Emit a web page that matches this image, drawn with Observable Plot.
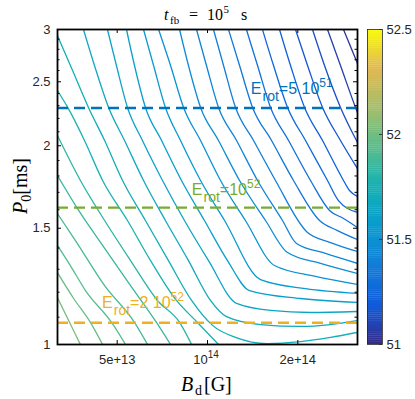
<!DOCTYPE html>
<html><head><meta charset="utf-8">
<script src="https://cdn.jsdelivr.net/npm/d3@7"></script>
<script src="https://cdn.jsdelivr.net/npm/@observablehq/plot@0.6"></script>
<style>
html,body{margin:0;padding:0;background:#fff;}
#wrap{position:relative;width:415px;height:399px;overflow:hidden;}
#wrap svg{position:absolute;left:0;top:0;}
</style></head><body><div id="wrap"></div>
<script>
// ---------- data (B in units of 1e13 G, P in ms) ----------
const xTickValues = [5e13, 1e14, 2e14];
const yTickValues = [1, 1.5, 2, 2.5, 3];
const yTickLabels = ["1", "1.5", "2", "2.5", "3"];
const yMinorTicks = [1.1,1.2,1.3,1.4,1.6,1.7,1.8,1.9,2.1,2.2,2.3,2.4,2.6,2.7,2.8,2.9];
const cbTickValues = [51, 51.5, 52, 52.5];
const cbTickLabels = ["51", "51.5", "52", "52.5"];
const parulaColors = ["#352a87","#0f5cdd","#127dd8","#079ccf","#15b1b4","#59bd8c","#a5be6b","#e1b952","#f9fb0e"];

const cT16 = [[28.4,3.0],[31.62,2.665]];
const cT15 = [[25.12,3.0],[27.75,2.646],[31.14,2.286],[31.62,2.245]];
const cT14 = [[22.39,3.0],[24.55,2.646],[27.75,2.286],[31.62,2.023]];
const cT13 = [[19.65,3.0],[21.55,2.646],[24.18,2.286],[27.75,2.037],[31.62,1.847]];
const cT12 = [[17.38,3.0],[18.91,2.646],[21.06,2.286],[24.18,2.037],[28.40,1.772],[29.74,1.711],[31.62,1.676]];
const cT11 = [[15.25,3.0],[16.60,2.646],[18.48,2.286],[21.22,2.037],[25.12,1.772],[27.33,1.652],[31.62,1.585]];
const cT10 = [[13.48,3.0],[14.68,2.646],[16.22,2.286],[18.63,2.037],[22.05,1.772],[25.51,1.596],[28.40,1.552],[31.62,1.504]];
const cT9  = [[11.75,3.0],[12.79,2.646],[14.13,2.286],[16.35,2.037],[19.35,1.772],[23.63,1.541],[27.12,1.488],[31.62,1.442]];
const cT8  = [[10.47,3.0],[11.31,2.646],[12.40,2.286],[14.24,2.037],[16.85,1.772],[21.55,1.478],[25.70,1.427],[31.62,1.383]];
const cT7  = [[9.19,3.0],[9.92,2.646],[10.88,2.286],[12.50,2.037],[14.68,1.772],[17.78,1.541],[19.80,1.422],[24.74,1.374],[31.62,1.327]];
const cT6  = [[8.07,3.0],[8.64,2.646],[9.48,2.286],[10.88,2.037],[12.79,1.772],[15.61,1.541],[18.48,1.378],[23.81,1.327],[31.62,1.281]];
const cT5  = [[6.87,3.0],[7.53,2.646],[8.32,2.286],[9.48,2.037],[11.05,1.772],[13.38,1.541],[16.72,1.317],[22.91,1.268],[31.62,1.233]];
const cT4  = [[6.12,3.0],[6.61,2.646],[7.24,2.286],[8.13,2.037],[9.48,1.772],[11.40,1.541],[15.02,1.254],[21.22,1.215],[31.62,1.195]];
const cT3  = [[5.37,3.0],[5.71,2.646],[6.21,2.286],[7.03,2.037],[8.19,1.772],[9.77,1.541],[11.66,1.340],[13.80,1.207],[20.42,1.174],[31.62,1.158]];
const cT2  = [[4.64,3.0],[4.97,2.646],[5.41,2.286],[6.07,2.037],[7.08,1.772],[8.38,1.541],[10.08,1.340],[12.50,1.154],[16.22,1.126],[22.05,1.118],[31.62,1.122]];
const cT1  = [[3.86,3.0],[4.20,2.646],[4.68,2.286],[5.29,2.037],[6.12,1.772],[7.24,1.541],[8.64,1.340],[10.23,1.166],[11.57,1.102],[15.02,1.072],[20.42,1.065],[25.70,1.072],[31.62,1.087]];
const cG8  = [[3.16,2.938],[3.55,2.600],[4.01,2.286],[4.54,2.037],[5.21,1.772],[6.21,1.541],[7.41,1.340],[8.85,1.166],[10.39,1.069],[12.40,1.025],[15.85,1.003],[20.42,1.010],[25.70,1.025],[31.62,1.043]];
const cG7  = [[3.16,2.425],[3.42,2.286],[3.89,2.037],[4.47,1.772],[5.41,1.541],[6.46,1.340],[7.88,1.166],[9.26,1.080],[10.88,1.0]];
const cG6  = [[3.16,2.073],[3.77,1.772],[4.54,1.541],[5.54,1.340],[6.81,1.166],[8.07,1.080],[8.85,1.0]];
const cG5  = [[3.16,1.803],[3.72,1.596],[4.47,1.413],[5.54,1.228],[6.76,1.080],[7.53,1.0]];
const cG4  = [[3.16,1.579],[3.63,1.437],[4.54,1.228],[5.71,1.080],[6.31,1.0]];
const cG3  = [[3.16,1.413],[3.49,1.317],[3.92,1.207],[4.79,1.080],[5.33,1.0]];
const cG2  = [[3.16,1.285],[3.58,1.174],[4.07,1.080],[4.47,1.0]];
const cG1  = [[3.16,1.178],[3.47,1.080],[3.77,1.0]];

const contourPaths  = [cT16,cT15,cT14,cT13,cT12,cT11,cT10,cT9,cT8,cT7,cT6,cT5,cT4,cT3,cT2,cT1,cG8,cG7,cG6,cG5,cG4,cG3,cG2,cG1];
const contourLevels = [51.04,51.08,51.13,51.17,51.21,51.25,51.30,51.34,51.38,51.42,51.47,51.51,51.55,51.59,51.64,51.68,51.72,51.76,51.81,51.85,51.89,51.93,51.98,52.02];

const erotP = [2.282, 1.612, 1.079];
const erotColors = ["#0072BD", "#77AC30", "#EDB120"];
const erotLabelB = [14.0e13, 8.9e13, 4.47e13];
const erotLabelP = [2.392, 1.682, 1.134];
const erotMant = ["=5 10", "=10", "=2 10"];
const erotExp = ["51", "52", "52"];

// ---------- build ----------
const rows = contourPaths.flatMap((pts, i) => pts.map(([b, p]) => ({B: b * 1e13, P: p, level: contourLevels[i], id: i})));
const parula = d3.piecewise(d3.interpolateRgb, parulaColors);
const colorOpt = {type: "linear", domain: [51, 52.5], interpolate: parula};
const SANS = "Liberation Sans, Arial, sans-serif";
const SERIF = "Liberation Serif, Times New Roman, serif";

const W = 415, H = 399, mT = 29, mB = 55, mL = 57, mR = 58;
const fw = W - mL - mR, fh = H - mT - mB;

const chart = Plot.plot({
  width: W, height: H, marginTop: mT, marginBottom: mB, marginLeft: mL, marginRight: mR,
  style: {fontFamily: SANS, fontSize: "13px", background: "white", color: "black"},
  x: {type: "log", domain: [10 ** 13.5, 10 ** 14.5], axis: null},
  y: {type: "log", domain: [1, 3], axis: null},
  color: colorOpt,
  marks: [
    Plot.line(rows, {x: "B", y: "P", z: "id", stroke: "level", strokeWidth: 1.3, curve: "monotone-x", clip: true}),
    Plot.ruleY([erotP[0]], {y: d => d, stroke: erotColors[0], strokeWidth: 2.4, strokeDasharray: "11,6"}),
    Plot.ruleY([erotP[1]], {y: d => d, stroke: erotColors[1], strokeWidth: 2.4, strokeDasharray: "11,6"}),
    Plot.ruleY([erotP[2]], {y: d => d, stroke: erotColors[2], strokeWidth: 2.4, strokeDasharray: "11,6"}),
    // ticks (inward)
    Plot.tickX(xTickValues, {x: d => d, insetTop: fh - 4, stroke: "black"}),
    Plot.tickX(xTickValues, {x: d => d, insetBottom: fh - 4, stroke: "black"}),
    Plot.tickY(yTickValues, {y: d => d, insetRight: fw - 4, stroke: "black"}),
    Plot.tickY(yTickValues, {y: d => d, insetLeft: fw - 4, stroke: "black"}),
    Plot.tickY(yMinorTicks, {y: d => d, insetRight: fw - 2.5, stroke: "black"}),
    Plot.tickY(yMinorTicks, {y: d => d, insetLeft: fw - 2.5, stroke: "black"}),
    Plot.frame({stroke: "black", strokeWidth: 1.8}),
    // tick labels
    Plot.text(yTickValues, {x: 10 ** 13.5, y: d => d, text: (d, i) => yTickLabels[i], textAnchor: "end", dx: -7, fontSize: 13, fill: "#262626"}),
    Plot.text([5e13, 2e14], {x: d => d, y: 1, text: d => d === 5e13 ? "5e+13" : "2e+14", dy: 15, fontSize: 13, fill: "#262626"})
  ]
});

const cbRows = d3.range(150).map(i => 51 + i * 0.01);
const cbar = Plot.plot({
  width: W, height: H, marginTop: mT, marginBottom: mB, marginLeft: 367, marginRight: 33,
  style: {fontFamily: SANS, fontSize: "13px", background: "transparent", color: "black"},
  x: {domain: [0, 1], axis: null},
  y: {domain: [51, 52.5], axis: null},
  color: colorOpt,
  marks: [
    Plot.rect(cbRows, {x1: 0, x2: 1, y1: d => d, y2: d => Math.min(52.5, d + 0.0115), fill: d => d + 0.005}),
    Plot.tickY(cbTickValues, {y: d => d, insetLeft: 12, stroke: "#262626", strokeWidth: 0.8}),
    Plot.frame({stroke: "#262626", strokeWidth: 0.8}),
    Plot.text(cbTickValues, {x: 1, y: d => d, text: (d, i) => cbTickLabels[i], textAnchor: "start", dx: 4, fontSize: 13, fill: "#262626"})
  ]
});

const wrap = document.getElementById("wrap");
wrap.appendChild(chart);
wrap.appendChild(cbar);

const svg = d3.select(chart);
const sx = chart.scale("x"), sy = chart.scale("y");

// x tick label 10^14
{
  const t = svg.append("text").attr("x", sx.apply(1e14) - 1).attr("y", 364).attr("text-anchor", "middle")
    .attr("font-family", SANS).attr("font-size", 13).attr("fill", "#262626");
  t.append("tspan").text("10");
  t.append("tspan").attr("dy", -6).attr("font-size", 10).text("14");
}

// E_rot labels
erotP.forEach((p, i) => {
  const t = svg.append("text").attr("x", sx.apply(erotLabelB[i])).attr("y", sy.apply(erotLabelP[i]))
    .attr("text-anchor", "start")
    .attr("font-family", SANS).attr("font-size", 16).attr("fill", erotColors[i]);
  t.append("tspan").text("E");
  t.append("tspan").attr("dx", 1).attr("dy", 7).attr("font-size", 14).text("rot");
  t.append("tspan").attr("dy", -7).text(erotMant[i]);
  t.append("tspan").attr("dy", -7).attr("font-size", 12).text(erotExp[i]);
});

// title
{
  const t = svg.append("text").attr("y", 20).attr("text-anchor", "start")
    .attr("font-family", SERIF).attr("font-size", 16).attr("fill", "black");
  t.append("tspan").attr("x", 164).attr("font-style", "italic").text("t");
  t.append("tspan").attr("x", 170).attr("dy", 4).attr("font-size", 11).text("fb");
  t.append("tspan").attr("x", 189).attr("dy", -4).text("=");
  t.append("tspan").attr("x", 207).text("10");
  t.append("tspan").attr("x", 223.5).attr("dy", -7).attr("font-size", 11).text("5");
  t.append("tspan").attr("x", 241).attr("dy", 7).text("s");
}
// x label
{
  const t = svg.append("text").attr("y", 391).attr("text-anchor", "start")
    .attr("font-family", SERIF).attr("font-size", 20).attr("fill", "black");
  t.append("tspan").attr("x", 181).attr("font-style", "italic").text("B");
  t.append("tspan").attr("x", 195).attr("dy", 4).attr("font-size", 14).text("d");
  t.append("tspan").attr("x", 204).attr("dy", -4).text("[G]");
}
// y label
{
  const t = svg.append("text").attr("transform", "translate(27,186) rotate(-90)").attr("text-anchor", "middle")
    .attr("font-family", SERIF).attr("font-size", 20).attr("fill", "black");
  t.append("tspan").attr("font-style", "italic").text("P");
  t.append("tspan").attr("dy", 4).attr("font-size", 14).text("0");
  t.append("tspan").attr("dy", -4).text("[ms]");
}
</script>
</body></html>
